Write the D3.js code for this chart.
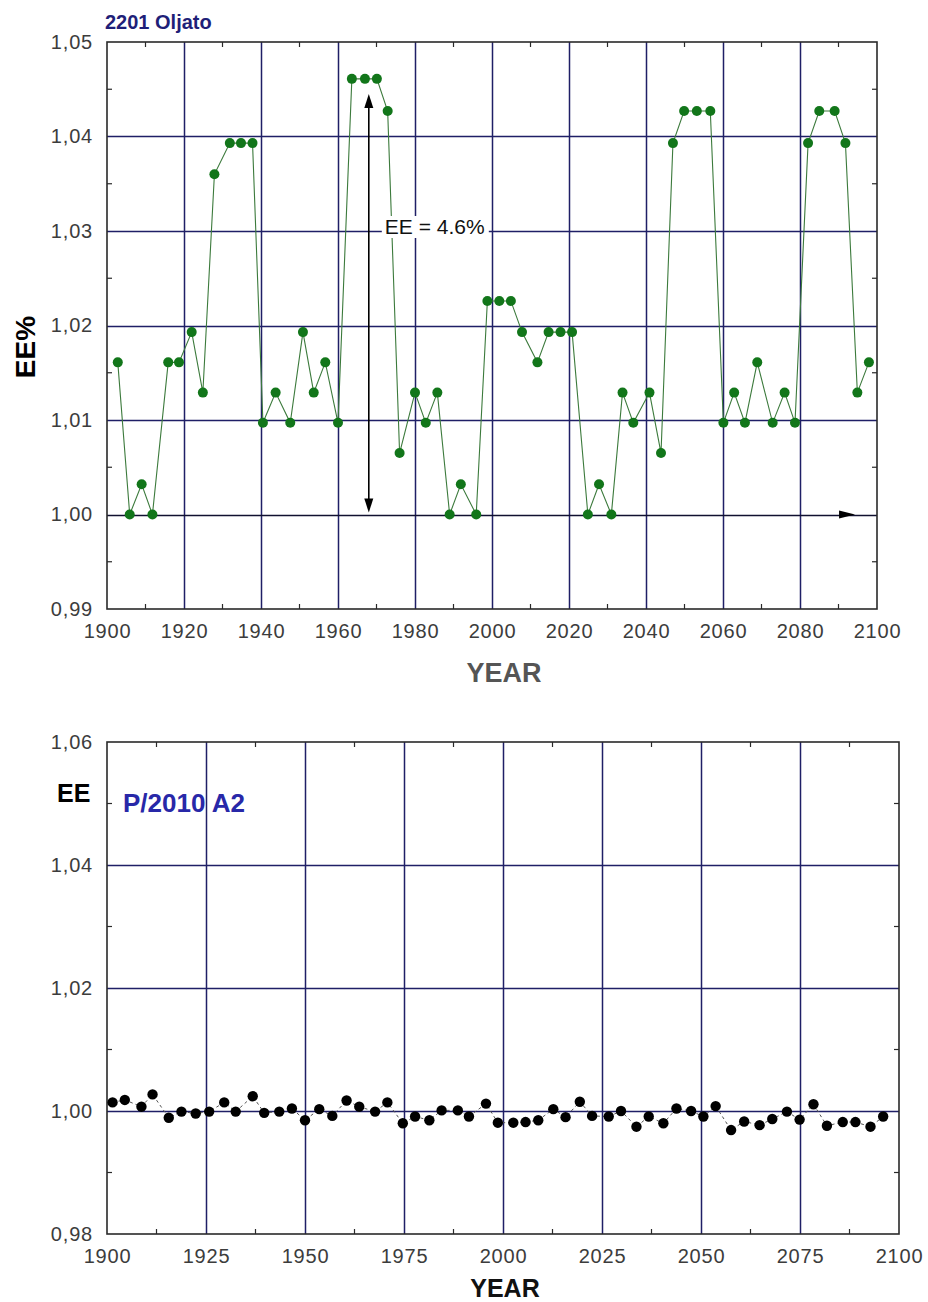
<!DOCTYPE html>
<html>
<head>
<meta charset="utf-8">
<script src="https://cdn.jsdelivr.net/npm/d3@7"></script>
<style>
  html, body { margin: 0; padding: 0; background: #ffffff; }
  svg { display: block; }
</style>
</head>
<body>
<svg id="chart" width="928" height="1302"></svg>
<script>
// ---------- Top panel data: 2201 Oljato ----------
const oljatoYears = [1902.8, 1905.9, 1909.0, 1911.8, 1915.9, 1918.7, 1922.0, 1924.9, 1927.9, 1931.9,
  1934.8, 1937.8, 1940.5, 1943.8, 1947.6, 1950.9, 1953.7, 1956.7, 1960.0, 1963.6,
  1967.0, 1970.1, 1972.9, 1976.0, 1980.0, 1982.8, 1985.8, 1989.0, 1991.9, 1995.9,
  1998.8, 2001.9, 2004.9, 2007.8, 2011.8, 2014.7, 2017.8, 2020.8, 2024.9, 2027.8,
  2031.0, 2033.9, 2036.7, 2040.9, 2043.9, 2047.0, 2049.9, 2053.2, 2056.7, 2060.1,
  2062.9, 2065.7, 2068.9, 2072.9, 2076.0, 2078.7, 2082.1, 2085.0, 2089.0, 2091.8,
  2094.9, 2097.9];
const oljatoEE = [1.0161, 1.0000, 1.0032, 1.0000, 1.0161, 1.0161, 1.0193, 1.0129, 1.0360, 1.0393,
  1.0393, 1.0393, 1.0097, 1.0129, 1.0097, 1.0193, 1.0129, 1.0161, 1.0097, 1.0461,
  1.0461, 1.0461, 1.0427, 1.0065, 1.0129, 1.0097, 1.0129, 1.0000, 1.0032, 1.0000,
  1.0226, 1.0226, 1.0226, 1.0193, 1.0161, 1.0193, 1.0193, 1.0193, 1.0000, 1.0032,
  1.0000, 1.0129, 1.0097, 1.0129, 1.0065, 1.0393, 1.0427, 1.0427, 1.0427, 1.0097,
  1.0129, 1.0097, 1.0161, 1.0097, 1.0129, 1.0097, 1.0393, 1.0427, 1.0427, 1.0393,
  1.0129, 1.0161];
const oljatoXTicks = [1900, 1920, 1940, 1960, 1980, 2000, 2020, 2040, 2060, 2080, 2100];
const oljatoXMinor = [1910, 1930, 1950, 1970, 1990, 2010, 2030, 2050, 2070, 2090];
const oljatoYTicks = [0.99, 1.00, 1.01, 1.02, 1.03, 1.04, 1.05];
const oljatoYMinor = [0.995, 1.005, 1.015, 1.025, 1.035, 1.045];
const oljatoTitle = "2201 Oljato";
const oljatoYLabel = "EE%";
const annotText = "EE = 4.6%";
const annotYear = 1968;
const annotTop = 1.0445;
const annotBottom = 1.0002;
const markYear = 2094.3;

// ---------- Bottom panel data: P/2010 A2 ----------
const p2010Years = [1901.4, 1904.5, 1908.7, 1911.5, 1915.6, 1918.8, 1922.4, 1925.8, 1929.6, 1932.5,
  1936.8, 1939.7, 1943.5, 1946.7, 1950.0, 1953.6, 1956.9, 1960.5, 1963.7, 1967.7,
  1970.8, 1974.7, 1977.8, 1981.4, 1984.5, 1988.6, 1991.4, 1995.7, 1998.7, 2002.6,
  2005.7, 2008.9, 2012.7, 2015.8, 2019.4, 2022.5, 2026.7, 2029.8, 2033.7, 2036.8,
  2040.5, 2043.8, 2047.5, 2050.6, 2053.7, 2057.6, 2060.9, 2064.8, 2068.0, 2071.7,
  2074.9, 2078.4, 2081.8, 2085.8, 2089.0, 2092.8, 2096.0];
const p2010EE = [1.0014, 1.0018, 1.0007, 1.0027, 0.9989, 0.9999, 0.9996, 0.9999, 1.0014, 0.9999,
  1.0024, 0.9997, 0.9999, 1.0004, 0.9985, 1.0003, 0.9992, 1.0017, 1.0007, 0.9999,
  1.0014, 0.9980, 0.9991, 0.9985, 1.0001, 1.0001, 0.9991, 1.0012, 0.9981, 0.9981,
  0.9982, 0.9985, 1.0003, 0.9990, 1.0015, 0.9992, 0.9991, 1.0000, 0.99745, 0.9991,
  0.9980, 1.0004, 1.0000, 0.9991, 1.0008, 0.9969, 0.9983, 0.9977, 0.9987, 0.9999,
  0.9986, 1.0011, 0.9976, 0.9982, 0.9982, 0.99745, 0.9991];
const p2010XTicks = [1900, 1925, 1950, 1975, 2000, 2025, 2050, 2075, 2100];
const p2010XMinor = [1912.5, 1937.5, 1962.5, 1987.5, 2012.5, 2037.5, 2062.5, 2087.5];
const p2010YTicks = [0.98, 1.00, 1.02, 1.04, 1.06];
const p2010YMinor = [0.99, 1.01, 1.03, 1.05];
const p2010Title = "P/2010 A2";
const p2010YLabel = "EE";
const xLabel = "YEAR";

// ---------- Drawing ----------
const svg = d3.select("#chart");
const FONT = "Arial, 'Liberation Sans', Helvetica, sans-serif";
const GRID = "#1f1f66";
const FRAME = "#2a2a2a";
const comma = d => d3.format(".2f")(d).replace(".", ",");

function panel(cfg) {
  const x = d3.scaleLinear().domain(cfg.xDomain).range([cfg.left, cfg.right]);
  const y = d3.scaleLinear().domain(cfg.yDomain).range([cfg.bottom, cfg.top]);
  const g = svg.append("g");

  // grid lines
  g.append("g").selectAll("line.vx")
    .data(cfg.xTicks.slice(1, -1)).join("line")
    .attr("x1", d => Math.round(x(d)) + 0.5).attr("x2", d => Math.round(x(d)) + 0.5)
    .attr("y1", cfg.top).attr("y2", cfg.bottom)
    .attr("stroke", GRID).attr("stroke-width", 1.5);
  g.append("g").selectAll("line.hy")
    .data(cfg.yTicks.slice(1, -1)).join("line")
    .attr("x1", cfg.left).attr("x2", cfg.right)
    .attr("y1", d => Math.round(y(d)) + 0.5).attr("y2", d => Math.round(y(d)) + 0.5)
    .attr("stroke", d => (cfg.darkOne && Math.abs(d - 1) < 1e-9) ? "#101030" : GRID)
    .attr("stroke-width", 1.5);

  // minor ticks (inward) on all four sides
  const tl = 5;
  const mt = g.append("g").attr("stroke", FRAME).attr("stroke-width", 1.2);
  cfg.xMinor.forEach(v => {
    mt.append("line").attr("x1", x(v)).attr("x2", x(v)).attr("y1", cfg.bottom).attr("y2", cfg.bottom - tl);
    mt.append("line").attr("x1", x(v)).attr("x2", x(v)).attr("y1", cfg.top).attr("y2", cfg.top + tl);
  });
  cfg.yMinor.forEach(v => {
    mt.append("line").attr("x1", cfg.left).attr("x2", cfg.left + tl).attr("y1", y(v)).attr("y2", y(v));
    mt.append("line").attr("x1", cfg.right).attr("x2", cfg.right - tl).attr("y1", y(v)).attr("y2", y(v));
  });

  // frame
  g.append("rect")
    .attr("x", cfg.left).attr("y", cfg.top)
    .attr("width", cfg.right - cfg.left).attr("height", cfg.bottom - cfg.top)
    .attr("fill", "none").attr("stroke", FRAME).attr("stroke-width", 1.6);

  // axes labels via d3 axes
  const xa = g.append("g").attr("transform", `translate(0,${cfg.bottom})`)
    .call(d3.axisBottom(x).tickValues(cfg.xTicks).tickFormat(d3.format("d")).tickSize(0).tickPadding(15));
  const ya = g.append("g").attr("transform", `translate(${cfg.left},0)`)
    .call(d3.axisLeft(y).tickValues(cfg.yTicks).tickFormat(comma).tickSize(0).tickPadding(14));
  [xa, ya].forEach(a => {
    a.select(".domain").remove();
    a.selectAll("text").attr("font-family", FONT).attr("font-size", 20)
      .attr("fill", "#3c3c3c").attr("letter-spacing", "0.8px");
  });

  return { g, x, y };
}

// ---- top panel ----
const P1 = panel({
  left: 107, right: 877, top: 42, bottom: 609,
  xDomain: [1900, 2100], yDomain: [0.99, 1.05],
  xTicks: oljatoXTicks, yTicks: oljatoYTicks,
  xMinor: oljatoXMinor, yMinor: oljatoYMinor, darkOne: true
});
{
  const { g, x, y } = P1;
  const pts = oljatoYears.map((d, i) => [d, oljatoEE[i]]);
  g.append("path")
    .datum(pts)
    .attr("d", d3.line().x(d => x(d[0])).y(d => y(d[1])))
    .attr("fill", "none").attr("stroke", "#3c7a3c").attr("stroke-width", 1.1);

  // annotation arrow
  const ax = x(annotYear);
  const yt = y(annotTop), yb = y(annotBottom);
  g.append("line").attr("x1", ax).attr("x2", ax).attr("y1", yt + 6).attr("y2", yb - 6)
    .attr("stroke", "#000").attr("stroke-width", 1.6);
  g.append("path").attr("d", `M${ax},${yt} L${ax - 4.5},${yt + 14} L${ax + 4.5},${yt + 14} Z`).attr("fill", "#000");
  g.append("path").attr("d", `M${ax},${yb} L${ax - 4.5},${yb - 14} L${ax + 4.5},${yb - 14} Z`).attr("fill", "#000");

  // right-pointing arrow head on the 1.00 line
  const mx = x(markYear), my = y(1.0);
  g.append("path").attr("d", `M${mx},${my} L${mx - 16},${my - 4} L${mx - 16},${my + 4} Z`).attr("fill", "#000");

  // annotation text with white box
  const tx = ax + 16, ty = y(1.03) + 3;
  g.append("rect").attr("x", tx - 3).attr("y", ty - 18).attr("width", 107).attr("height", 22).attr("fill", "#fff");
  g.append("text").attr("x", tx).attr("y", ty)
    .attr("font-family", FONT).attr("font-size", 21).attr("fill", "#111")
    .text(annotText);

  g.append("g").selectAll("circle").data(pts).join("circle")
    .attr("cx", d => x(d[0])).attr("cy", d => y(d[1])).attr("r", 5)
    .attr("fill", "#12761a");

  // title & labels
  svg.append("text").attr("x", 105).attr("y", 29)
    .attr("font-family", FONT).attr("font-size", 20).attr("font-weight", "bold")
    .attr("fill", "#1f1f78").text(oljatoTitle);
  svg.append("text").attr("transform", "translate(35,347) rotate(-90)")
    .attr("text-anchor", "middle")
    .attr("font-family", FONT).attr("font-size", 28).attr("font-weight", "bold")
    .attr("fill", "#000").text(oljatoYLabel);
  svg.append("text").attr("x", 504).attr("y", 682).attr("text-anchor", "middle")
    .attr("font-family", FONT).attr("font-size", 27).attr("font-weight", "bold")
    .attr("fill", "#555").text(xLabel);
}

// ---- bottom panel ----
const P2 = panel({
  left: 107, right: 899, top: 742, bottom: 1234,
  xDomain: [1900, 2100], yDomain: [0.98, 1.06],
  xTicks: p2010XTicks, yTicks: p2010YTicks,
  xMinor: p2010XMinor, yMinor: p2010YMinor, darkOne: false
});
{
  const { g, x, y } = P2;
  const pts = p2010Years.map((d, i) => [d, p2010EE[i]]);
  g.append("path")
    .datum(pts)
    .attr("d", d3.line().x(d => x(d[0])).y(d => y(d[1])))
    .attr("fill", "none").attr("stroke", "#555").attr("stroke-width", 1)
    .attr("stroke-dasharray", "3,3");
  g.append("g").selectAll("circle").data(pts).join("circle")
    .attr("cx", d => x(d[0])).attr("cy", d => y(d[1])).attr("r", 5.2)
    .attr("fill", "#000");

  svg.append("text").attr("x", 57).attr("y", 802)
    .attr("font-family", FONT).attr("font-size", 25).attr("font-weight", "bold")
    .attr("fill", "#000").text(p2010YLabel);
  svg.append("text").attr("x", 123).attr("y", 812)
    .attr("font-family", FONT).attr("font-size", 26).attr("font-weight", "bold")
    .attr("fill", "#2828a8").text(p2010Title);
  svg.append("text").attr("x", 505).attr("y", 1297).attr("text-anchor", "middle")
    .attr("font-family", FONT).attr("font-size", 25).attr("font-weight", "bold")
    .attr("fill", "#111").text(xLabel);
}
</script>
</body>
</html>
